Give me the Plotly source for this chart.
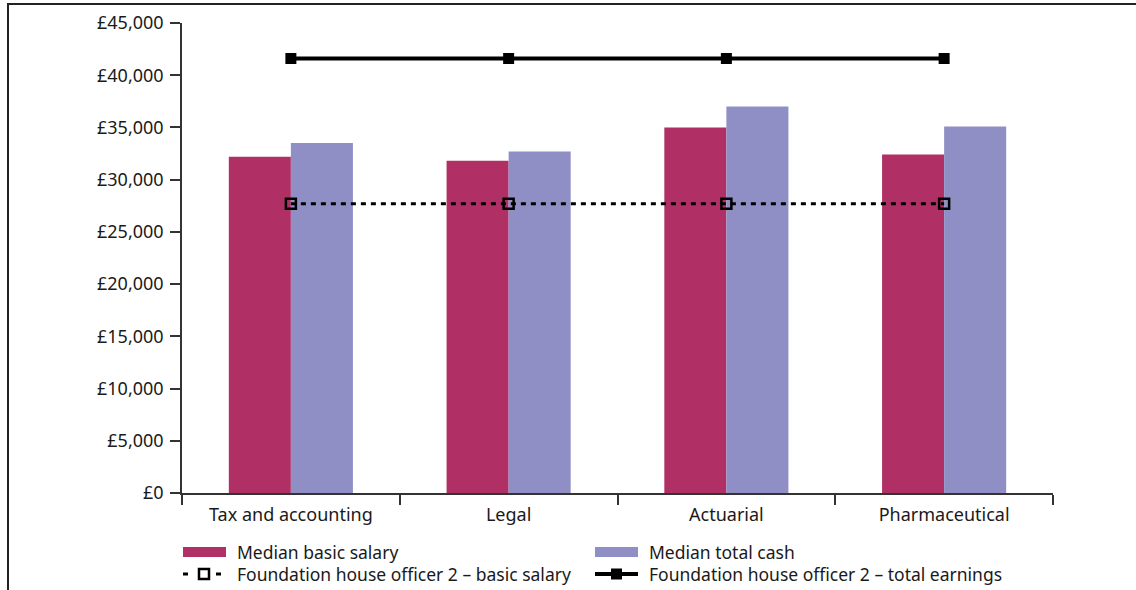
import plotly.graph_objects as go

categories = ["Tax and accounting", "Legal", "Actuarial", "Pharmaceutical"]
median_basic = [32200, 31800, 35000, 32400]
median_total = [33500, 32700, 37000, 35100]
fho2_basic = [27700, 27700, 27700, 27700]
fho2_total = [41600, 41600, 41600, 41600]
legend_labels = ["Median basic salary", "Median total cash",
                 "Foundation house officer 2 \u2013 basic salary",
                 "Foundation house officer 2 \u2013 total earnings"]
y_ticks = list(range(0, 45001, 5000))

MAGENTA = "#B03066"
LAVENDER = "#8F8FC5"
INK = "#1a1a1a"
FONT = "Noto Sans"
FS = 18
LFS = 17.5

W, H = 1136, 590
L, R, T, B = 182, 83, 23, 97
PW, PH = W - L - R, H - T - B

def px(x):
    return (x - L) / PW

def py(y):
    return (H - B - y) / PH

fig = go.Figure()
fig.add_trace(go.Bar(x=categories, y=median_basic, name=legend_labels[0],
                     marker=dict(color=MAGENTA, line=dict(width=0)), showlegend=False))
fig.add_trace(go.Bar(x=categories, y=median_total, name=legend_labels[1],
                     marker=dict(color=LAVENDER, line=dict(width=0)), showlegend=False))
fig.add_trace(go.Scatter(x=categories, y=fho2_basic, name=legend_labels[2], mode="lines+markers",
                         line=dict(color="black", width=3, dash="5px,5px"),
                         marker=dict(symbol="square-open", size=10, color="black",
                                     line=dict(width=2.5, color="black")),
                         showlegend=False))
fig.add_trace(go.Scatter(x=categories, y=fho2_total, name=legend_labels[3], mode="lines+markers",
                         line=dict(color="black", width=4),
                         marker=dict(symbol="square", size=11, color="black"),
                         showlegend=False))

shapes = []
annotations = []
# figure frame (left and top edges visible)
shapes.append(dict(type="rect", xref="paper", yref="paper",
                   x0=px(8), x1=px(W + 10), y0=py(H + 10), y1=py(4),
                   line=dict(color="#222", width=2), fillcolor="rgba(0,0,0,0)", layer="below"))

# manual legend
row1, row2 = 552, 574
col1, col2 = 183, 595
text_off = 52
# swatches
shapes.append(dict(type="rect", xref="paper", yref="paper", x0=px(col1), x1=px(col1 + 43),
                   y0=py(row1 + 5), y1=py(row1 - 5), fillcolor=MAGENTA, line=dict(width=0)))
shapes.append(dict(type="rect", xref="paper", yref="paper", x0=px(col2), x1=px(col2 + 43),
                   y0=py(row1 + 5), y1=py(row1 - 5), fillcolor=LAVENDER, line=dict(width=0)))
# dotted basic legend
for (a, b) in [(col1, col1 + 5), (col1 + 33, col1 + 38)]:
    shapes.append(dict(type="line", xref="paper", yref="paper", x0=px(a), x1=px(b),
                       y0=py(row2), y1=py(row2), line=dict(color="black", width=3)))
shapes.append(dict(type="rect", xref="paper", yref="paper", x0=px(col1 + 16), x1=px(col1 + 26),
                   y0=py(row2 + 5), y1=py(row2 - 5), fillcolor="white",
                   line=dict(color="black", width=2.5)))
# solid total legend
shapes.append(dict(type="line", xref="paper", yref="paper", x0=px(col2), x1=px(col2 + 43),
                   y0=py(row2), y1=py(row2), line=dict(color="black", width=4)))
shapes.append(dict(type="rect", xref="paper", yref="paper", x0=px(col2 + 16), x1=px(col2 + 27),
                   y0=py(row2 + 5.5), y1=py(row2 - 5.5), fillcolor="black", line=dict(width=0)))

for lbl, cx, cy in [(legend_labels[0], col1, row1), (legend_labels[1], col2, row1),
                    (legend_labels[2], col1, row2), (legend_labels[3], col2, row2)]:
    annotations.append(dict(text=lbl, xref="paper", yref="paper", x=px(cx + text_off), y=py(cy),
                            xanchor="left", yanchor="middle", showarrow=False,
                            font=dict(family=FONT, size=LFS, color=INK)))

fig.update_layout(
    width=W, height=H,
    margin=dict(l=L, r=R, t=T, b=B, pad=0, autoexpand=False),
    paper_bgcolor="white", plot_bgcolor="white",
    barmode="group", bargap=0.43, bargroupgap=0,
    showlegend=False,
    font=dict(family=FONT, size=FS, color=INK),
    shapes=shapes, annotations=annotations,
)
fig.update_xaxes(type="category", showline=True, linecolor="#333", linewidth=1.5,
                 ticks="outside", tickson="boundaries", ticklen=10, tickwidth=1.5, tickcolor="#333",
                 showgrid=False, zeroline=False, ticklabelstandoff=5, automargin=False,
                 tickfont=dict(family=FONT, size=FS, color=INK))
fig.update_yaxes(range=[0, 45000], tickvals=y_ticks,
                 ticktext=["\u00a3{:,}".format(v) for v in y_ticks],
                 showline=True, linecolor="#333", linewidth=1.5,
                 ticks="outside", ticklen=10, tickwidth=1.5, tickcolor="#333",
                 showgrid=False, zeroline=False, ticklabelstandoff=3, automargin=False,
                 tickfont=dict(family=FONT, size=FS, color=INK))

fig.write_html("out.html")
